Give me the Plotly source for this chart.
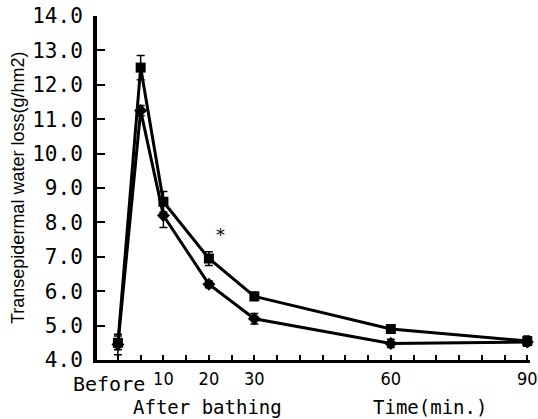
import plotly.graph_objects as go

times = [0, 5, 10, 20, 30, 60, 90]
sq_vals = [4.5, 12.5, 8.6, 6.95, 5.85, 4.9, 4.55]
sq_err = [0.2, 0.35, 0.3, 0.2, 0.12, 0.06, 0.15]
di_vals = [4.45, 11.25, 8.2, 6.2, 5.2, 4.48, 4.52]
di_err = [0.3, 0.15, 0.35, 0.1, 0.15, 0.12, 0.12]

x_tickvals = list(range(0, 95, 5))
x_labels = {10: "10", 20: "20", 30: "30", 60: "60", 90: "90"}
x_ticktext = [x_labels.get(v, "") for v in x_tickvals]

fig = go.Figure()
fig.add_trace(go.Scatter(
    x=times, y=sq_vals, mode="lines+markers",
    line=dict(color="black", width=3),
    marker=dict(symbol="square", size=10, color="black"),
    error_y=dict(type="data", array=sq_err, color="black", thickness=1.5, width=4),
    showlegend=False, cliponaxis=False))
fig.add_trace(go.Scatter(
    x=times, y=di_vals, mode="lines+markers",
    line=dict(color="black", width=3),
    marker=dict(symbol="diamond", size=10, color="black"),
    error_y=dict(type="data", array=di_err, color="black", thickness=1.5, width=4),
    showlegend=False, cliponaxis=False))

mono = "DejaVu Sans Mono"
narrow = "Liberation Sans Narrow, DejaVu Sans Condensed"

PL, PR, PT, PB = 97, 8, 16, 59
PW = 538 - PL - PR

fig.update_layout(
    width=538, height=419,
    margin=dict(l=PL, r=PR, t=PT, b=PB),
    plot_bgcolor="white", paper_bgcolor="white",
    xaxis=dict(range=[-4.6, 90.6], tickvals=x_tickvals, ticktext=x_ticktext,
               ticks="inside", ticklen=5, tickwidth=2, tickcolor="black",
               showline=True, linecolor="black", linewidth=3,
               showgrid=False, zeroline=False, automargin=False,
               ticklabeloverflow="allow",
               tickfont=dict(family=narrow, size=18, color="black")),
    yaxis=dict(range=[4, 14], dtick=1, tickformat=".1f",
               ticks="inside", ticklen=8, tickwidth=2, tickcolor="black",
               showline=True, linecolor="black", linewidth=4,
               showgrid=False, zeroline=False, ticklabelstandoff=6, automargin=False,
               tickfont=dict(family=mono, size=21, color="black")),
)

fig.add_annotation(x=0, y=0, xref="x", yref="paper", yshift=-10, xshift=-9,
                   text="Before", showarrow=False, yanchor="top", xanchor="center",
                   font=dict(family=mono, size=20, color="black"))
fig.add_annotation(x=(207 - PL) / PW, y=0, xref="paper", yref="paper",
                   yshift=-34, text="After bathing", showarrow=False, yanchor="top",
                   xanchor="center",
                   font=dict(family=mono, size=19, color="black"))
fig.add_annotation(x=(430 - PL) / PW, y=0, xref="paper", yref="paper",
                   yshift=-34, text="Time(min.)", showarrow=False, yanchor="top",
                   xanchor="center",
                   font=dict(family=mono, size=19, color="black"))
fig.add_annotation(x=(18 - PL) / PW, y=0.5, xref="paper", yref="paper",
                   text="Transepidermal water loss(g/hm2)", textangle=-90, showarrow=False,
                   xanchor="center", yanchor="middle",
                   font=dict(family="Liberation Sans", size=18, color="black"))
fig.add_annotation(x=22.5, y=7.65, xref="x", yref="y", text="*", showarrow=False,
                   font=dict(family="DejaVu Sans", size=18, color="black"))

fig.write_html("out.html", config={"displayModeBar": False},
               post_script="document.body.style.margin='0';document.body.style.overflow='hidden';")
